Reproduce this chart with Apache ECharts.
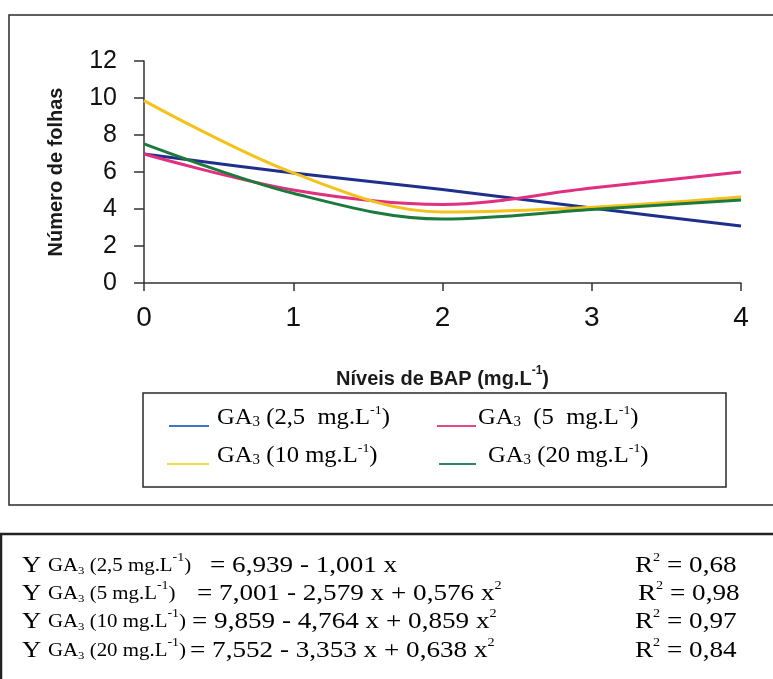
<!DOCTYPE html>
<html>
<head>
<meta charset="utf-8">
<script src="https://cdn.jsdelivr.net/npm/echarts@6/dist/echarts.min.js"></script>
<style>
html,body{margin:0;padding:0;background:#fff;}
#chart{width:773px;height:679px;}
</style>
</head>
<body>
<div id="chart"></div>
<script>
// ---- data ----
const bapLevels = [0, 1, 2, 3, 4];
const ga25 = [6.97, 5.95, 5.05, 4.05, 3.08];
const ga5 = [6.97, 5.03, 4.25, 5.13, 6.0];
const ga10 = [9.86, 5.95, 3.84, 4.10, 4.65];
const ga20 = [7.52, 4.85, 3.46, 3.97, 4.49];
const yTicks = [0, 2, 4, 6, 8, 10, 12];
const xTicks = [0, 1, 2, 3, 4];
const seriesNames = ['GA3 (2,5 mg.L-1)', 'GA3 (5 mg.L-1)', 'GA3 (10 mg.L-1)', 'GA3 (20 mg.L-1)'];
const seriesData = [ga25, ga5, ga10, ga20];
const legendLabels = [
  '{s|GA}{sb|3}{s| (2,5  mg.L}{sp|-1}{s|)}',
  '{s|GA}{sb|3}{s|  (5  mg.L}{sp|-1}{s|)}',
  '{s|GA}{sb|3}{s| (10 mg.L}{sp|-1}{s|)}',
  '{s|GA}{sb|3}{s| (20 mg.L}{sp|-1}{s|)}'
];
const eqLeft = [
  '{Y|Y }{s|GA}{sb|3}{s| (2,5 mg.L}{sp|-1}{s|)}',
  '{Y|Y }{s|GA}{sb|3}{s| (5 mg.L}{sp|-1}{s|)}',
  '{Y|Y }{s|GA}{sb|3}{s| (10 mg.L}{sp|-1}{s|)}',
  '{Y|Y }{s|GA}{sb|3}{s| (20 mg.L}{sp|-1}{s|)}'
];
const eqRight = [
  '{t|= 6,939 - 1,001 x}',
  '{t|= 7,001 - 2,579 x + 0,576 x}{sp|2}',
  '{t|= 9,859 - 4,764 x + 0,859 x}{sp|2}',
  '{t|= 7,552 - 3,353 x + 0,638 x}{sp|2}'
];
const r2Values = ['0,68', '0,98', '0,97', '0,84'];

// ---- styles ----
const colors = ['#1f2f8c', '#e0307f', '#f4c21c', '#1d7a3c'];
const legendColors = ['#3f74c8', '#e04a8c', '#f0dc48', '#2a8766'];
const serif = '"Liberation Serif", "Times New Roman", serif';
const sans = '"Liberation Sans", Arial, sans-serif';
const ink = '#0d0d0d';

const richSerif = {
  Y: {fontFamily: serif, fontSize: 23, color: ink, lineHeight: 26, verticalAlign: 'bottom'},
  t: {fontFamily: serif, fontSize: 23, color: ink, lineHeight: 26, verticalAlign: 'bottom'},
  s: {fontFamily: serif, fontSize: 18, color: ink, lineHeight: 26, verticalAlign: 'bottom', padding: [0, 0, 2, 0]},
  sb: {fontFamily: serif, fontSize: 11, color: ink, lineHeight: 26, verticalAlign: 'bottom'},
  sp: {fontFamily: serif, fontSize: 12, color: ink, lineHeight: 26, verticalAlign: 'top', padding: [1, 0, 0, 0]}
};
const richLegend = {
  s: {fontFamily: serif, fontSize: 23, color: ink, lineHeight: 26, verticalAlign: 'bottom'},
  sb: {fontFamily: serif, fontSize: 14, color: ink, lineHeight: 26, verticalAlign: 'bottom'},
  sp: {fontFamily: serif, fontSize: 13, color: ink, lineHeight: 26, verticalAlign: 'top', padding: [1, 0, 0, 0]}
};

const graphics = [];
// outer frame around chart
graphics.push({type: 'rect', shape: {x: 9, y: 15, width: 800, height: 490}, style: {fill: null, stroke: '#2a2a2a', lineWidth: 1.5}, silent: true});
// legend frame
graphics.push({type: 'rect', shape: {x: 143, y: 393, width: 583, height: 94}, style: {fill: null, stroke: '#2a2a2a', lineWidth: 1.5}, silent: true});
// equation frame
graphics.push({type: 'rect', shape: {x: 1, y: 534, width: 820, height: 200}, style: {fill: null, stroke: '#222', lineWidth: 2.5}, silent: true});

// legend entries
const legPos = [
  {lx1: 169, lx2: 209, ly: 426, tx: 217, ty: 416},
  {lx1: 437, lx2: 476, ly: 426, tx: 478, ty: 416},
  {lx1: 167, lx2: 209, ly: 464, tx: 217, ty: 454},
  {lx1: 439, lx2: 476, ly: 464, tx: 488, ty: 454}
];
legPos.forEach((p, i) => {
  graphics.push({type: 'line', shape: {x1: p.lx1, y1: p.ly, x2: p.lx2, y2: p.ly}, style: {stroke: legendColors[i], lineWidth: 1.8}, silent: true});
  graphics.push({type: 'text', x: p.tx, y: p.ty, scaleX: 1.07, style: {text: legendLabels[i], rich: richLegend, verticalAlign: 'middle', align: 'left'}, silent: true});
});

// equations
const eqY = [564, 592, 620, 649];
const eqRx = [210, 197, 192, 190];
const r2x = [635, 638, 635, 635];
eqY.forEach((y, i) => {
  graphics.push({type: 'text', x: 22, y: y, scaleX: 1.16, style: {text: eqLeft[i], rich: richSerif, verticalAlign: 'middle', align: 'left'}, silent: true});
  graphics.push({type: 'text', x: eqRx[i], y: y, scaleX: 1.18, style: {text: eqRight[i], rich: richSerif, verticalAlign: 'middle', align: 'left'}, silent: true});
  graphics.push({type: 'text', x: r2x[i], y: y, scaleX: 1.18, style: {text: '{t|R}{sp|2}{t| = ' + r2Values[i] + '}', rich: richSerif, verticalAlign: 'middle', align: 'left'}, silent: true});
});

const chart = echarts.init(document.getElementById('chart'), null, {renderer: 'canvas'});
chart.setOption({
  backgroundColor: '#ffffff',
  animation: false,
  grid: {left: 144, right: 32, top: 61, bottom: 396},
  xAxis: {
    type: 'value', min: xTicks[0], max: xTicks[xTicks.length - 1], interval: 1,
    name: '{b|Níveis de BAP (mg.L}{sp|-1}{b|)}',
    nameLocation: 'middle', nameGap: 82,
    nameTextStyle: {
      rich: {
        b: {fontFamily: sans, fontWeight: 'bold', fontSize: 20, color: '#1a1a1a', lineHeight: 24, verticalAlign: 'bottom'},
        sp: {fontFamily: sans, fontWeight: 'bold', fontSize: 12, color: '#1a1a1a', lineHeight: 24, verticalAlign: 'top'}
      }
    },
    axisLine: {show: true, onZero: false, lineStyle: {color: '#333', width: 1.5}},
    axisTick: {show: true, inside: false, length: 8, lineStyle: {color: '#333', width: 1.5}},
    axisLabel: {fontFamily: sans, fontSize: 28, color: '#111', margin: 21},
    splitLine: {show: false}
  },
  yAxis: {
    type: 'value', min: yTicks[0], max: yTicks[yTicks.length - 1], interval: 2,
    name: 'Número de folhas', nameLocation: 'middle', nameRotate: 90, nameGap: 78,
    nameTextStyle: {fontFamily: sans, fontWeight: 'bold', fontSize: 20, color: '#1a1a1a'},
    axisLine: {show: true, lineStyle: {color: '#333', width: 1.5}},
    axisTick: {show: true, inside: false, length: 10, lineStyle: {color: '#333', width: 1.5}},
    axisLabel: {fontFamily: sans, fontSize: 25, color: '#111', margin: 27},
    splitLine: {show: false}
  },
  series: seriesData.map((d, i) => ({
    name: seriesNames[i],
    type: 'line',
    data: d.map((v, k) => [bapLevels[k], v]),
    smooth: 0.35,
    showSymbol: false,
    lineStyle: {color: colors[i], width: 3},
    itemStyle: {color: colors[i]}
  })),
  graphic: graphics
});
</script>
</body>
</html>
